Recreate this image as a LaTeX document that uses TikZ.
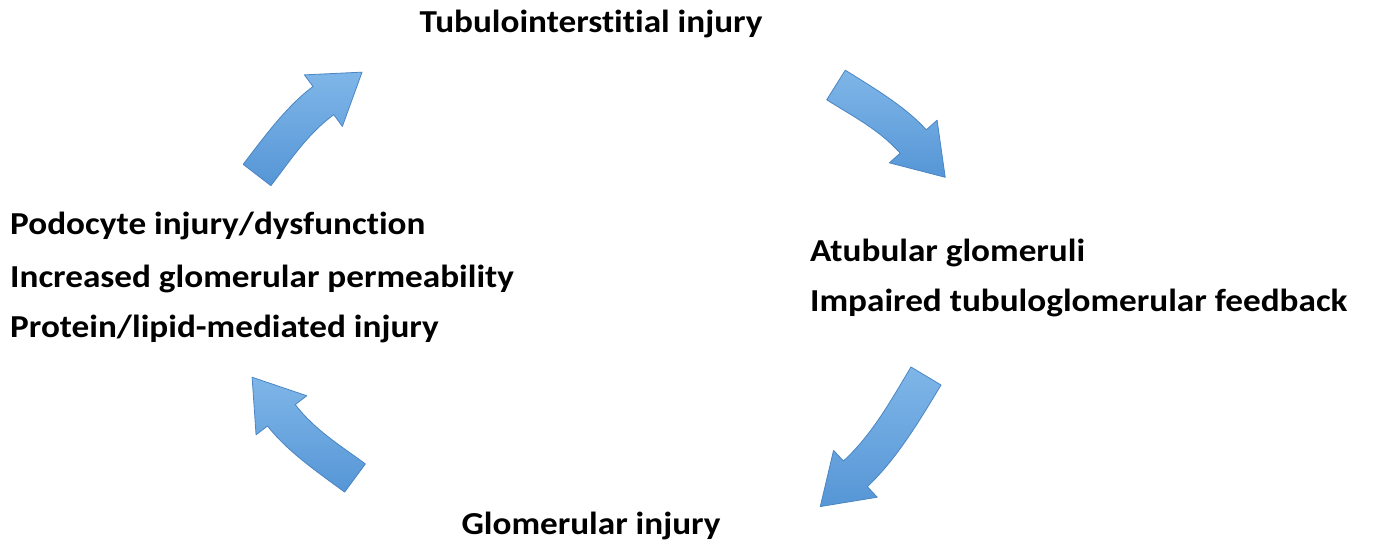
\documentclass[tikz,border=0pt]{standalone}
\usepackage{fontspec}
\setmainfont[Ligatures=CommonOff, FakeStretch=1.1]{Carlito}
\definecolor{arrowblue}{HTML}{5696D6}
\definecolor{arrowlight}{HTML}{7FB6E8}
\definecolor{arrowdark}{HTML}{4A86C4}
\tikzset{
  lbl/.style={font=\bfseries\fontsize{32}{36}\selectfont, text=black, inner sep=0pt},
  blockarrow/.style={top color=arrowlight, bottom color=arrowblue, draw=arrowdark, line width=0.8pt, line join=round}
}
% #1 tail x, #2 tail y, #3 angle, #4 length
\newcommand\bluearrow[4]{%
  \begin{scope}[shift={(#1,#2)},rotate=#3]
    \pgfmathsetmacro\ALen{#4}
    \pgfmathsetmacro\As{17.5}
    \pgfmathsetmacro\AH{32}
    \pgfmathsetmacro\Ah{48}
    \pgfmathsetmacro\Aca{cos(8)}
    \pgfmathsetmacro\Asa{sin(8)}
    \pgfmathsetmacro\Ak{(\ALen-\Ah)/3}
    \pgfmathsetmacro\Bx{\ALen-\Ah*\Aca}
    \pgfmathsetmacro\By{\Ah*\Asa}
    \path[blockarrow]
      ({-\As*\Asa},{\As*\Aca})
      .. controls ({-\As*\Asa+\Ak*\Aca},{\As*\Aca+\Ak*\Asa}) and ({\Bx+\As*\Asa-\Ak*\Aca},{\By+\As*\Aca+\Ak*\Asa}) ..
      ({\Bx+\As*\Asa},{\By+\As*\Aca})
      -- ({\Bx+\AH*\Asa},{\By+\AH*\Aca})
      -- (\ALen,0)
      -- ({\Bx-\AH*\Asa},{\By-\AH*\Aca})
      -- ({\Bx-\As*\Asa},{\By-\As*\Aca})
      .. controls ({\Bx-\As*\Asa-\Ak*\Aca},{\By-\As*\Aca+\Ak*\Asa}) and ({\As*\Asa+\Ak*\Aca},{-\As*\Aca+\Ak*\Asa}) ..
      ({\As*\Asa},{-\As*\Aca})
      -- cycle;
  \end{scope}}
\begin{document}
\begin{tikzpicture}[x=1pt,y=1pt]
  \useasboundingbox[fill=white] (0,0) rectangle (1373,551);
  \node[lbl, anchor=base] (ti) at (591,518) {Tubulointerstitial injury};
  \node[lbl, anchor=base west] (p1) at (10,316) {Podocyte injury/dysfunction};
  \node[lbl, anchor=base west] (p2) at (10,263) {Increased glomerular permeability};
  \node[lbl, anchor=base west] (p3) at (10,213) {Protein/lipid-mediated injury};
  \node[lbl, anchor=base west] (r1) at (810,289) {Atubular glomeruli};
  \node[lbl, anchor=base west] (r2) at (810,239) {Impaired tubuloglomerular feedback};
  \node[lbl, anchor=base] (gi) at (591,16) {Glomerular injury};
  \bluearrow{257}{376}{44.4}{147}
  \bluearrow{836}{466}{-40.2}{143}
  \bluearrow{926}{175}{-129}{168}
  \bluearrow{355}{73}{135.6}{144}
\end{tikzpicture}
\end{document}
